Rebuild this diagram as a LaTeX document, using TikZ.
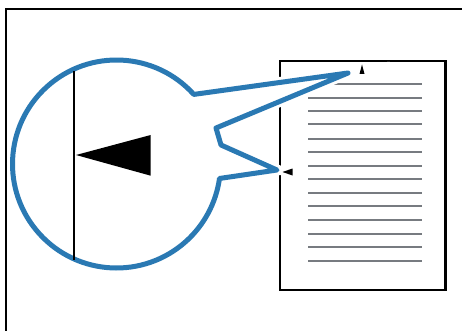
\documentclass[tikz,border=0pt]{standalone}
\definecolor{bleu}{HTML}{2A79B3}
\definecolor{grisligne}{HTML}{777B80}
\begin{document}
\begin{tikzpicture}[x=1pt,y=-1pt]
  % Styles
  \tikzset{
    cadre/.style={draw=black, line width=2.4pt},
    ligne/.style={draw=grisligne, line width=1.8pt},
    bulle/.style={fill=white, draw=bleu, line width=5pt, line join=round,
      preaction={draw=white, line width=11pt}},
  }

  \useasboundingbox (0,0) rectangle (462,331);

  % Cadre extérieur
  \draw[cadre] (6,335) -- (6,9) -- (466,9);

  % Page
  \draw[cadre] (280,61) rectangle (445.5,290);

  % Lignes de texte
  \foreach \y in {84,98,110.7,123.7,138.7,151.7,165.7,179,192.7,206,220,234,247,261}
    \draw[ligne] (308,\y) -- (422,\y);

  % Bulle
  \coordinate (centre) at (116.5,164);
  \coordinate (pointe1) at (348,73);
  \coordinate (pointe2) at (277,170);
  \path[bulle] (centre) ++(-42:104) arc[start angle=-42, end angle=-352, radius=104]
    -- (pointe2) -- (221,145) -- (216,128) -- (pointe1) -- cycle;

  % Repères
  \fill (359.5,74) -- (362,64.5) -- (364.5,74) -- cycle;
  \fill (282.5,172) -- (292.5,168.5) -- (292.5,175.5) -- cycle;

  % Détail agrandi
  \draw[line width=2.4pt] (74,71) -- (74,260);
  \fill (76,155) -- (150.7,135) -- (150.7,175.7) -- cycle;
\end{tikzpicture}
\end{document}
